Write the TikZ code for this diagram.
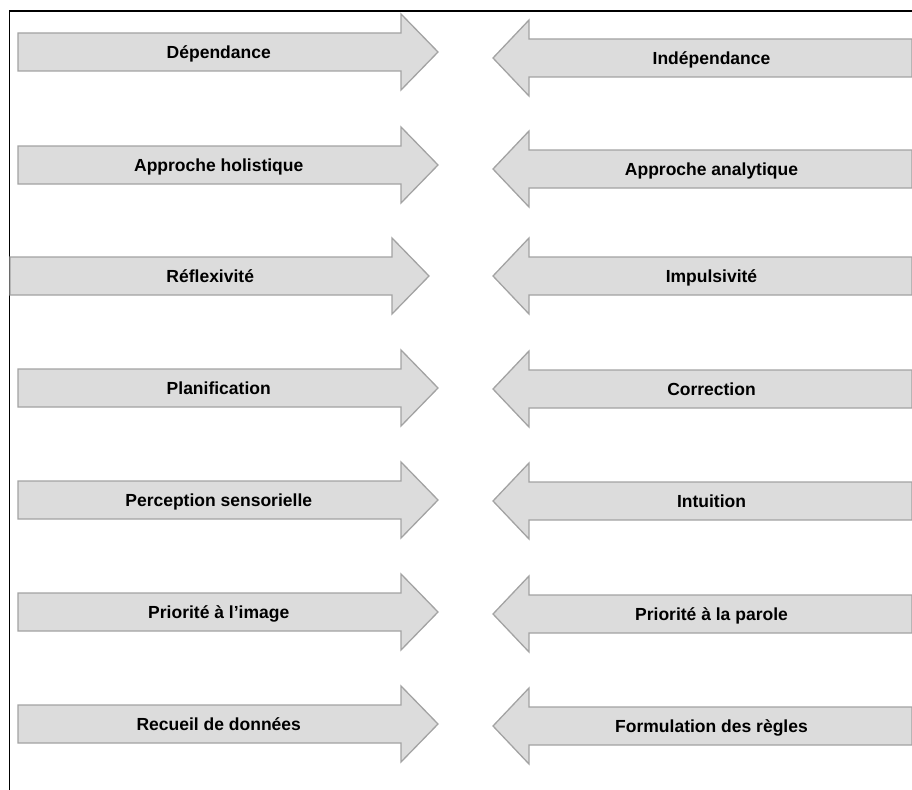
\documentclass[tikz,border=0pt]{standalone}
\usepackage{fontspec}
\setmainfont{Liberation Sans}
\begin{document}
\begin{tikzpicture}[x=1pt,y=-1pt,
  arrowbody/.style={fill=arrowfill,draw=arrowline,line width=1.3pt,line join=miter},
  arrowlabel/.style={font=\fontsize{17.5}{20}\selectfont\bfseries,inner sep=0pt,anchor=base},
  frameline/.style={draw=black,line width=1.1pt}]
\definecolor{arrowfill}{HTML}{DCDCDC}
\definecolor{arrowline}{HTML}{A3A3A3}
\useasboundingbox (0,0) rectangle (912,789);
% frame
\coordinate (ftr) at (913,11);
\coordinate (ftl) at (9.5,11);
\coordinate (fbl) at (9.5,790);
\draw[frameline] (ftr) -- (ftl) -- (fbl);
% right-pointing arrows: #1 name, #2 start x, #3 head base x, #4 tip x, #5 centre y, #6 text
\newcommand\RArw[6]{%
  \path[arrowbody] (#2,#5-19) -- (#3,#5-19) -- (#3,#5-38) -- (#4,#5) -- (#3,#5+38) -- (#3,#5+19) -- (#2,#5+19) -- cycle;
  \node[arrowlabel] (#1) at ({(#2+#3)/4+(#2+#4)/4},#5+6.5) {#6};}
% left-pointing arrows: #1 name, #2 tip x, #3 head base x, #4 end x, #5 centre y, #6 text
\newcommand\LArw[6]{%
  \path[arrowbody] (#4,#5-19) -- (#3,#5-19) -- (#3,#5-38) -- (#2,#5) -- (#3,#5+38) -- (#3,#5+19) -- (#4,#5+19) -- cycle;
  \node[arrowlabel] (#1) at ({(#3+#4)/4+(#2+#4)/4},#5+6.5) {#6};}
\RArw{r1}{18}{401}{438}{52}{Dépendance}
\LArw{l1}{493}{529}{912}{58}{Indépendance}
\RArw{r2}{18}{401}{438}{165}{Approche holistique}
\LArw{l2}{493}{529}{912}{169}{Approche analytique}
\RArw{r3}{10}{392}{429}{276}{Réflexivité}
\LArw{l3}{493}{529}{912}{276}{Impulsivité}
\RArw{r4}{18}{401}{438}{388}{Planification}
\LArw{l4}{493}{529}{912}{389}{Correction}
\RArw{r5}{18}{401}{438}{500}{Perception sensorielle}
\LArw{l5}{493}{529}{912}{501}{Intuition}
\RArw{r6}{18}{401}{438}{612}{Priorité à l’image}
\LArw{l6}{493}{529}{912}{614}{Priorité à la parole}
\RArw{r7}{18}{401}{438}{724}{Recueil de données}
\LArw{l7}{493}{529}{912}{726}{Formulation des règles}
\end{tikzpicture}
\end{document}
